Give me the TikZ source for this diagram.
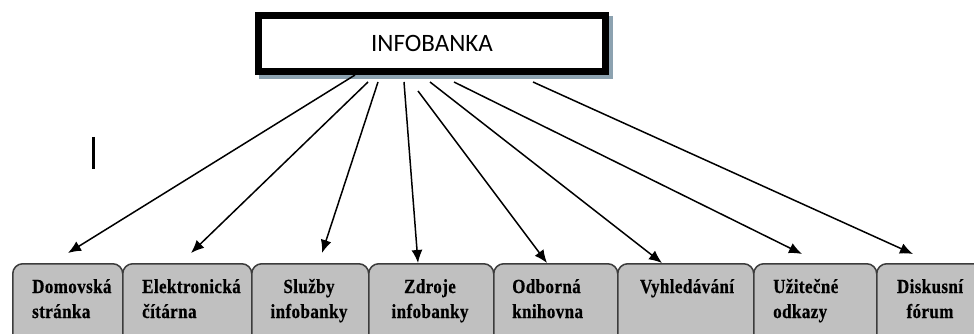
\documentclass[tikz,border=0pt]{standalone}
\usepackage{fontspec}
\setmainfont{Liberation Serif}
\newfontfamily\headfont{Carlito}
\newfontfamily\itemfont[FakeStretch=0.85,LetterSpace=2,FakeBold=0.6]{Liberation Serif Bold}
\usetikzlibrary{arrows.meta,backgrounds}
\definecolor{boxgray}{RGB}{192,192,192}
\definecolor{boxedge}{RGB}{60,60,60}
\definecolor{shadowc}{RGB}{140,162,176}
\tikzset{
  headbox/.style={draw=black, line width=7pt, fill=white, minimum width=347pt,
    minimum height=56pt, inner sep=0pt, font=\headfont\fontsize{25}{30}\selectfont},
  itembox/.style={draw=boxedge, line width=1.5pt, fill=boxgray, rounded corners=10pt},
  itemtext/.style={inner sep=0pt, font=\itemfont\fontsize{20}{25}\selectfont},
  link/.style={line width=1.5pt, -{Latex[length=13pt,width=11pt]}},
}
\begin{document}
\begin{tikzpicture}[x=1pt,y=-1pt]
\useasboundingbox (0,0) rectangle (974,334);
\clip (0,0) rectangle (974,334);

% top box with its shadow
\node[headbox] (top) at (432,43.5) {INFOBANKA};
\begin{scope}[on background layer]
  \fill[shadowc] ([shift={(4,4)}]top.north west) rectangle ([shift={(4,4)}]top.south east);
\end{scope}

% row of category boxes
\node[itembox, minimum width=110pt, minimum height=85pt, anchor=north west] (b1) at (12,263) {};
\node[itembox, minimum width=129pt, minimum height=85pt, anchor=north west] (b2) at (122,263) {};
\node[itembox, minimum width=117pt, minimum height=85pt, anchor=north west] (b3) at (251,263) {};
\node[itembox, minimum width=125pt, minimum height=85pt, anchor=north west] (b4) at (368,263) {};
\node[itembox, minimum width=124pt, minimum height=85pt, anchor=north west] (b5) at (493,263) {};
\node[itembox, minimum width=136pt, minimum height=85pt, anchor=north west] (b6) at (617,263) {};
\node[itembox, minimum width=123pt, minimum height=85pt, anchor=north west] (b7) at (753,263) {};
\node[itembox, minimum width=114pt, minimum height=85pt, anchor=north west] (b8) at (876,263) {};

% box captions (base anchor sits on the last line)
\node[itemtext, anchor=base west, align=left] (l1) at (32,318) {Domovská\\stránka};
\node[itemtext, anchor=base west, align=left] (l2) at (142,318) {Elektronická\\čítárna};
\node[itemtext, anchor=base, align=center] (l3) at (309,318) {Služby\\infobanky};
\node[itemtext, anchor=base, align=center] (l4) at (430,318) {Zdroje\\infobanky};
\node[itemtext, anchor=base west, align=left] (l5) at (512,318) {Odborná\\knihovna};
\node[itemtext, anchor=base] (l6) at (687,293) {Vyhledávání};
\node[itemtext, anchor=base west, align=left] (l7) at (773,318) {Užitečné\\odkazy};
\node[itemtext, anchor=base, align=center] (l8) at (930,318) {Diskusní\\fórum};

% arrow start points under the top box
\coordinate (s1) at (355,75);
\coordinate (s2) at (368,82);
\coordinate (s3) at (378,82);
\coordinate (s4) at (404,82);
\coordinate (s5) at (418,91);
\coordinate (s6) at (430,82);
\coordinate (s7) at (454,82);
\coordinate (s8) at (533,82);

% arrow tips above the boxes
\coordinate (e1) at (68,253);
\coordinate (e2) at (191,253);
\coordinate (e3) at (322,253);
\coordinate (e4) at (418,263);
\coordinate (e5) at (547,263);
\coordinate (e6) at (662,263);
\coordinate (e7) at (802,254);
\coordinate (e8) at (913,254);

\foreach \i in {1,...,8} {\draw[link] (s\i) -- (e\i);}

% text cursor
\draw[line width=3pt] (93.5,137) -- (93.5,169);
\end{tikzpicture}
\end{document}
